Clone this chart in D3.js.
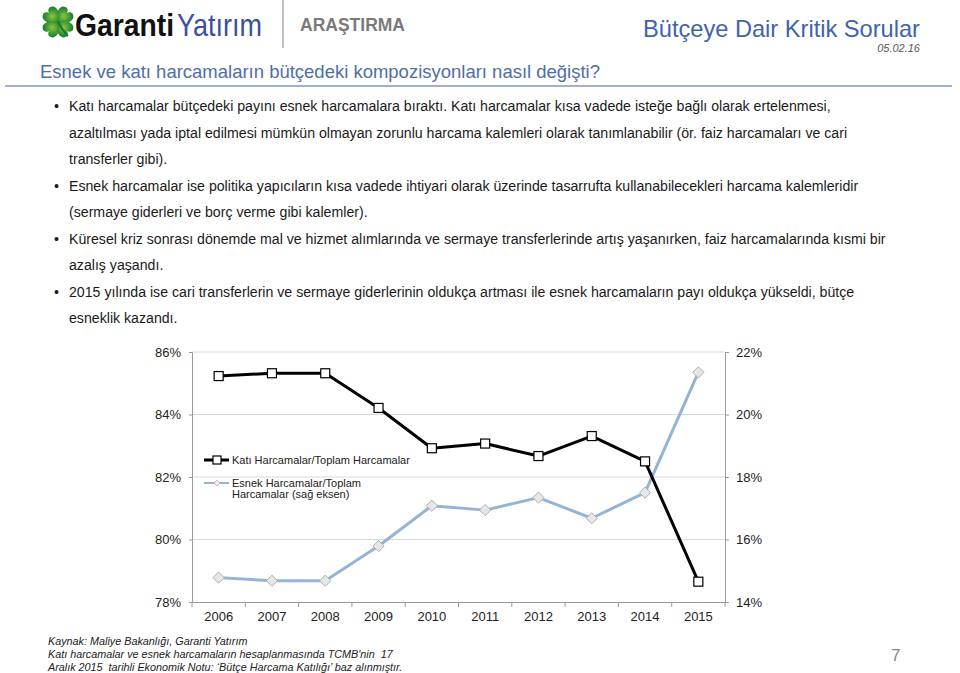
<!DOCTYPE html>
<html><head><meta charset="utf-8">
<script src="https://cdn.jsdelivr.net/npm/d3@7"></script>
<style>
html,body{margin:0;padding:0;background:#fff;}
svg{display:block;font-family:"Liberation Sans",Arial,Helvetica,sans-serif;}
</style></head>
<body>
<svg id="c" width="960" height="673"></svg>
<script>
const years = ["2006","2007","2008","2009","2010","2011","2012","2013","2014","2015"];
const katiValues = [85.23, 85.32, 85.32, 84.21, 82.92, 83.07, 82.67, 83.31, 82.50, 78.65];
const esnekValues = [14.78, 14.68, 14.68, 15.79, 17.08, 16.94, 17.34, 16.68, 17.50, 21.35];
const leftTicks = [78, 80, 82, 84, 86];
const rightTicks = [14, 16, 18, 20, 22];
const seriesNames = ["Katı Harcamalar/Toplam Harcamalar", "Esnek Harcamalar/Toplam", "Harcamalar (sağ eksen)"];
const bulletLines = [
  ["•", "Katı harcamalar bütçedeki payını esnek harcamalara bıraktı. Katı harcamalar kısa vadede isteğe bağlı olarak ertelenmesi,"],
  ["", "azaltılması yada iptal edilmesi mümkün olmayan zorunlu harcama kalemleri olarak tanımlanabilir (ör. faiz harcamaları ve cari"],
  ["", "transferler gibi)."],
  ["•", "Esnek harcamalar ise politika yapıcıların kısa vadede ihtiyari olarak üzerinde tasarrufta kullanabilecekleri harcama kalemleridir"],
  ["", "(sermaye giderleri ve borç verme gibi kalemler)."],
  ["•", "Küresel kriz sonrası dönemde mal ve hizmet alımlarında ve sermaye transferlerinde artış yaşanırken, faiz harcamalarında kısmi bir"],
  ["", "azalış yaşandı."],
  ["•", "2015 yılında ise cari transferlerin ve sermaye giderlerinin oldukça artması ile esnek harcamaların payı oldukça yükseldi, bütçe"],
  ["", "esneklik kazandı."]
];
const footerLines = [
  "Kaynak: Maliye Bakanlığı, Garanti Yatırım",
  "Katı harcamalar ve esnek harcamaların hesaplanmasında TCMB'nin\u00a0 17",
  "Aralık 2015\u00a0 tarihli Ekonomik Notu: ‘Bütçe Harcama Katılığı’ baz alınmıştır."
];

const svg = d3.select("#c");

// ---------- Header ----------
const logo = svg.append("g");
const grad = svg.append("defs").append("radialGradient").attr("id","lg").attr("cx","50%").attr("cy","50%").attr("r","60%");
grad.append("stop").attr("offset","0%").attr("stop-color","#8cc63f");
grad.append("stop").attr("offset","100%").attr("stop-color","#0f7a2e");
const cx = 58, cy = 22;
[0, 90, 180, 270].forEach(a => {
  logo.append("path")
    .attr("d", "M0,0 C-9,-4 -11,-14 -5,-16 C-2,-17 0,-14 0,-12 C0,-14 2,-17 5,-16 C11,-14 9,-4 0,0 Z")
    .attr("transform", `translate(${cx},${cy}) rotate(${a + 45})`)
    .attr("fill", "url(#lg)");
});
logo.append("path").attr("d", `M${cx},${cy} q4,8 10,14`).attr("stroke","#0f7a2e").attr("stroke-width",2).attr("fill","none");
svg.append("text").attr("x", 75).attr("y", 36).attr("font-size", 32).attr("font-weight", 600)
  .attr("fill", "#111").attr("textLength", 99).attr("lengthAdjust","spacingAndGlyphs").text("Garanti");
svg.append("text").attr("x", 177).attr("y", 36).attr("font-size", 32).attr("font-weight", 400)
  .attr("fill", "#3b4fa0").attr("textLength", 85).attr("lengthAdjust","spacingAndGlyphs").text("Yatırım");
svg.append("line").attr("x1", 283).attr("x2", 283).attr("y1", 0).attr("y2", 48).attr("stroke", "#999").attr("stroke-width", 1.2);
svg.append("text").attr("x", 300).attr("y", 31).attr("font-size", 18).attr("font-weight", "bold")
  .attr("fill", "#7a7a7a").attr("textLength", 105).attr("lengthAdjust","spacingAndGlyphs").text("ARAŞTIRMA");

svg.append("text").attr("x", 920).attr("y", 37).attr("text-anchor", "end").attr("font-size", 24)
  .attr("fill", "#3f63ae").attr("textLength", 277).attr("lengthAdjust","spacingAndGlyphs").text("Bütçeye Dair Kritik Sorular");
svg.append("text").attr("x", 920).attr("y", 52).attr("text-anchor", "end").attr("font-size", 11)
  .attr("font-style", "italic").attr("fill", "#555").text("05.02.16");
svg.append("text").attr("x", 40).attr("y", 78).attr("font-size", 18.5)
  .attr("fill", "#4f6ea5").attr("textLength", 560).attr("lengthAdjust","spacingAndGlyphs")
  .text("Esnek ve katı harcamaların bütçedeki kompozisyonları nasıl değişti?");
svg.append("line").attr("x1", 5).attr("x2", 952).attr("y1", 86).attr("y2", 86)
  .attr("stroke", "#7f96c4").attr("stroke-width", 1.5);

// ---------- Bullets ----------
const bl = svg.append("g").attr("font-size", 14.15).attr("fill", "#1a1a1a");
bulletLines.forEach((l, i) => {
  const y = 111 + i * 26.5;
  if (l[0]) bl.append("text").attr("x", 54).attr("y", y).text(l[0]);
  bl.append("text").attr("x", 69).attr("y", y).text(l[1]);
});

// ---------- Chart ----------
const x = d3.scaleBand().domain(years).range([192, 725]);
const yL = d3.scaleLinear().domain([78, 86]).range([602, 352]);
const yR = d3.scaleLinear().domain([14, 22]).range([602, 352]);

svg.append("g").selectAll("line").data(leftTicks.filter(d => d > 78)).join("line")
  .attr("x1", 192).attr("x2", 725).attr("y1", d => yL(d)).attr("y2", d => yL(d))
  .attr("stroke", "#d9d9d9").attr("stroke-width", 1);

const styleAxis = g => {
  g.select(".domain").attr("stroke", "#999");
  g.selectAll(".tick line").attr("stroke", "#999");
  g.selectAll(".tick text").attr("fill", "#222").attr("font-size", 13)
    .attr("font-family", '"Liberation Sans",Arial,sans-serif');
};

svg.append("g").attr("transform", "translate(192,0)")
  .call(d3.axisLeft(yL).tickValues(leftTicks).tickFormat(d => d + "%").tickSize(3).tickPadding(8))
  .call(styleAxis);
svg.append("g").attr("transform", "translate(725,0)")
  .call(d3.axisRight(yR).tickValues(rightTicks).tickFormat(d => d + "%").tickSize(4).tickPadding(7))
  .call(styleAxis);

const axB = svg.append("g").attr("transform", "translate(0,602)")
  .call(d3.axisBottom(x).tickSize(0).tickPadding(10))
  .call(styleAxis);
axB.selectAll(".tick text").attr("dy", "0.71em");
svg.append("g").selectAll("line").data(years.concat(["end"])).join("line")
  .attr("x1", (d, i) => 192 + i * x.bandwidth()).attr("x2", (d, i) => 192 + i * x.bandwidth())
  .attr("y1", 602).attr("y2", 607).attr("stroke", "#999");

// Esnek line (right axis)
const lineR = d3.line().x((d, i) => x(years[i]) + x.bandwidth() / 2).y(d => yR(d));
svg.append("path").datum(esnekValues).attr("d", lineR).attr("fill", "none")
  .attr("stroke", "#95b3d7").attr("stroke-width", 3).attr("stroke-linejoin", "round");
svg.append("g").selectAll("path").data(esnekValues).join("path")
  .attr("d", d3.symbol(d3.symbolDiamond2, 80))
  .attr("transform", (d, i) => `translate(${x(years[i]) + x.bandwidth() / 2},${yR(d)})`)
  .attr("fill", "#e6e6e6").attr("stroke", "#b0b0b0").attr("stroke-width", 1);

// Katı line (left axis)
const lineL = d3.line().x((d, i) => x(years[i]) + x.bandwidth() / 2).y(d => yL(d));
svg.append("path").datum(katiValues).attr("d", lineL).attr("fill", "none")
  .attr("stroke", "#000").attr("stroke-width", 3).attr("stroke-linejoin", "round");
svg.append("g").selectAll("rect").data(katiValues).join("rect")
  .attr("x", (d, i) => x(years[i]) + x.bandwidth() / 2 - 4.5).attr("y", d => yL(d) - 4.5)
  .attr("width", 9).attr("height", 9).attr("fill", "#fff").attr("stroke", "#000").attr("stroke-width", 1.2);

// Legend
const lg = svg.append("g");
lg.append("line").attr("x1", 204).attr("x2", 229).attr("y1", 460).attr("y2", 460).attr("stroke", "#000").attr("stroke-width", 3);
lg.append("rect").attr("x", 213).attr("y", 456).attr("width", 8).attr("height", 8).attr("fill", "#fff").attr("stroke", "#000").attr("stroke-width", 1.2);
lg.append("text").attr("x", 232).attr("y", 464).attr("font-size", 11).attr("fill", "#222").text(seriesNames[0]);
lg.append("line").attr("x1", 204).attr("x2", 229).attr("y1", 483).attr("y2", 483).attr("stroke", "#95b3d7").attr("stroke-width", 2);
lg.append("path").attr("d", d3.symbol(d3.symbolDiamond2, 24))
  .attr("transform", "translate(217,483)").attr("fill", "#eee").attr("stroke", "#aaa").attr("stroke-width", 0.8);
lg.append("text").attr("x", 232).attr("y", 487).attr("font-size", 11).attr("fill", "#222").text(seriesNames[1]);
lg.append("text").attr("x", 232).attr("y", 498).attr("font-size", 11).attr("fill", "#222").text(seriesNames[2]);

// Footer
const ft = svg.append("g").attr("font-size", 10.8).attr("font-style", "italic").attr("fill", "#222");
footerLines.forEach((t, i) => ft.append("text").attr("x", 48).attr("y", 645 + i * 13).text(t));
svg.append("text").attr("x", 891).attr("y", 661).attr("font-size", 17).attr("fill", "#888").text("7");
</script>
</body></html>
